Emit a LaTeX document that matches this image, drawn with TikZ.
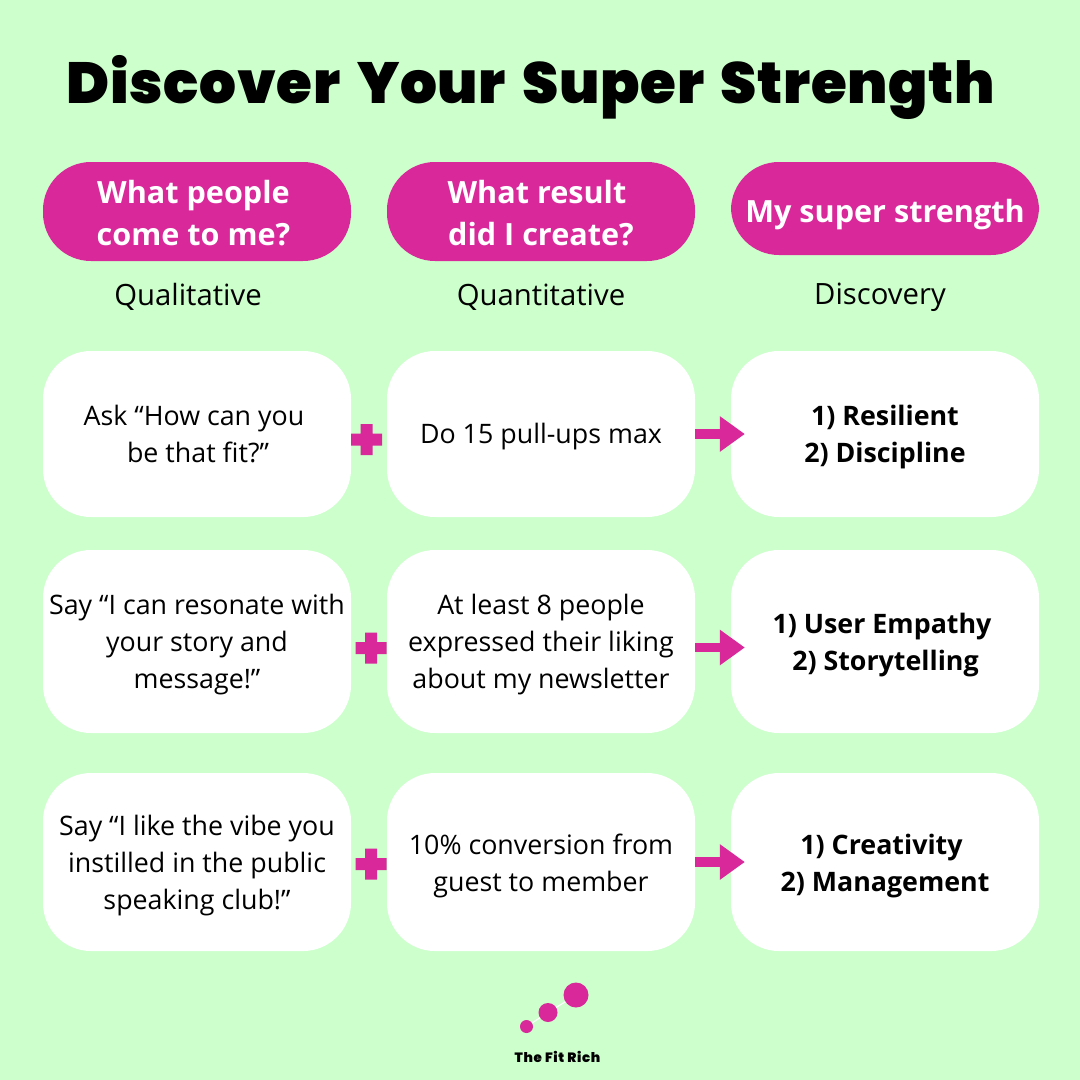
\documentclass[tikz,border=0pt]{standalone}
\usepackage{fontspec}
\usepackage{xcolor}
\usetikzlibrary{arrows.meta,calc,positioning}
\setmainfont{Open Sans}
\newfontfamily\titlefont{Poppins}[UprightFont=* Black,WordSpace=1.6,LetterSpace=1.1]
\newfontfamily\brandfont{Poppins}[UprightFont=* Black,LetterSpace=5]
\definecolor{mint}{HTML}{CCFFCC}
\definecolor{magenta}{HTML}{D8289A}

\begin{document}
\begin{tikzpicture}[
  x=1pt,
  y=-1pt,
  headbox/.style={fill=magenta,rounded corners=48pt,minimum width=308pt,inner sep=0pt},
  headtext/.style={text=white,font=\fontsize{30.6}{41.5}\selectfont\bfseries,align=center,inner sep=0pt},
  cellbox/.style={fill=white,rounded corners=48pt,minimum width=308pt,inner sep=0pt},
  celltext/.style={font=\fontsize{26.8}{37}\selectfont,align=center,inner sep=0pt},
  boldtext/.style={celltext,font=\fontsize{26.8}{37}\selectfont\bfseries},
  sublabel/.style={font=\fontsize{29.3}{37}\selectfont,inner sep=0pt},
  plusmark/.style={fill=magenta},
  thenarrow/.style={draw=magenta,line width=9.5pt,-{Triangle[length=25pt,width=34pt]}},
  dot/.style={circle,fill=magenta,inner sep=0pt}
]

% Background
\fill[mint] (0,0) rectangle (1080,1080);
\useasboundingbox (0,0) rectangle (1080,1080);

% Title
\node[font=\titlefont\fontsize{58}{60}\selectfont,inner sep=0pt] (title) at (531,87)
  {Discover Your Super Strength};

% Column heads
\node[headbox,minimum height=99pt] (headA) at (197,211.5) {};
\node[headbox,minimum height=99pt] (headB) at (541,211.5) {};
\node[headbox,minimum height=93pt] (headC) at (885,208.5) {};
\node[headtext] (headtextA) at ($(headA)+(-3.5,1.5)$) {What people\\come to me?};
\node[headtext] (headtextB) at ($(headB)+(0,1.5)$) {What result\hspace*{8pt}\\did I create?};
\node[headtext] (headtextC) at ($(headC)+(0,6)$) {My super strength};

\node[sublabel] (subA) at (188,297) {Qualitative};
\node[sublabel] (subB) at (541,297) {Quantitative};
\node[sublabel] (subC) at (880,297) {Discovery};

% Row one
\node[cellbox,minimum height=166pt] (cellA) at (197,434) {};
\node[cellbox,minimum height=166pt] (cellB) at (541,434) {};
\node[cellbox,minimum height=166pt] (cellC) at (885,434) {};
\node[celltext] (textA) at ($(cellA)+(-3,0)$) {Ask “How can you\\\hspace*{8pt}be that fit?”};
\node[celltext] (textB) at ($(cellB)+(0,3)$) {Do 15 pull-ups max};
\node[boldtext] (textC) at ($(cellC)+(0,3)$) {1) Resilient\\2) Discipline};

% Row two
\node[cellbox,minimum height=183pt] (cellD) at (197,641.5) {};
\node[cellbox,minimum height=183pt] (cellE) at (541,641.5) {};
\node[cellbox,minimum height=183pt] (cellF) at (885,641.5) {};
\node[celltext] (textD) at ($(cellD)+(0,3)$) {Say “I can resonate with\\your story and\\message!”};
\node[celltext] (textE) at ($(cellE)+(0,3)$) {At least 8 people\\expressed their liking\\about my newsletter};
\node[boldtext] (textF) at ($(cellF)+(-3,4)$) {1) User Empathy\\\hspace*{7pt}2) Storytelling};

% Row three
\node[cellbox,minimum height=178pt] (cellG) at (197,862) {};
\node[cellbox,minimum height=178pt] (cellH) at (541,862) {};
\node[cellbox,minimum height=178pt] (cellI) at (885,862) {};
\node[celltext] (textG) at ($(cellG)+(0,3.5)$) {Say “I like the vibe you\\instilled in the public\\speaking club!”};
\node[celltext] (textH) at ($(cellH)+(0,3.5)$) {10\% conversion from\\guest to member};
\node[boldtext] (textI) at ($(cellI)+(-3.5,4.5)$) {1) Creativity\\\hspace*{7pt}2) Management};

% Plus marks
\foreach \X/\Y in {366.5/439.5,371/648,371/864}
  \fill[plusmark,shift={(\X,\Y)}] (-6,-15.5) -- (6,-15.5) -- (6,-6) -- (15.5,-6) -- (15.5,6)
    -- (6,6) -- (6,15.5) -- (-6,15.5) -- (-6,6) -- (-15.5,6) -- (-15.5,-6) -- (-6,-6) -- cycle;

% Arrows
\draw[thenarrow] (cellB.east) -- ($(cellC.west)+(14,0)$);
\draw[thenarrow] ($(cellE.east)+(0,6)$) -- ($(cellF.west)+(14,6)$);
\draw[thenarrow] (cellH.east) -- ($(cellI.west)+(14,0)$);

% Logo
\node[dot,minimum size=13pt] (dotA) at (526.5,1026.5) {};
\node[dot,minimum size=19pt] (dotB) at (548,1012.5) {};
\node[dot,minimum size=25pt] (dotC) at (576,995) {};
\draw[white,line width=1.2pt] (dotA) -- (dotB);
\draw[white,line width=1.2pt] (dotB) -- (dotC);
\node[font=\brandfont\fontsize{13.5}{14}\selectfont,inner sep=0pt] (brand) at (557.5,1057) {The Fit Rich};

\end{tikzpicture}
\end{document}
